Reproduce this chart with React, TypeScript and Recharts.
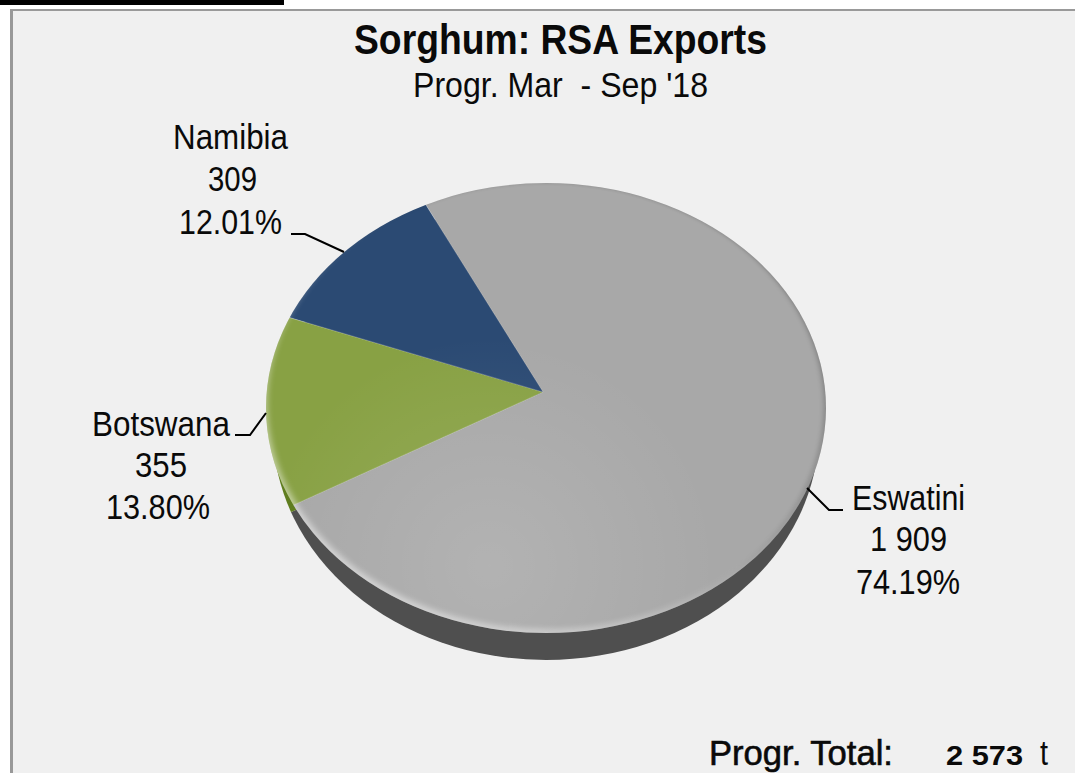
import React from "react";
import { PieChart, Pie, Cell } from "recharts";

// Slice order runs clockwise from the top, same as the source chart
const COUNTRIES = ["Eswatini", "Botswana", "Namibia"];
const TONNES = [1909, 355, 309];
const TONNE_LABELS = ["1 909", "355", "309"];
const SHARE_LABELS = ["74.19%", "13.80%", "12.01%"];
const TOP_COLORS = ["#a8a8a8", "#88a144", "#2b4a73"];
const SIDE_COLORS = ["#4f4f4f", "#5f7d1f", "#1e3350"];

const TITLE = "Sorghum: RSA Exports";
const SUBTITLE = "Progr. Mar  - Sep '18";
const TOTAL_CAPTION = "Progr. Total:";
const TOTAL_VALUE = "2 573";
const TOTAL_UNIT = "t";

const pieData = COUNTRIES.map((name, i) => ({ name, value: TONNES[i] }));

// The tilted disc: slices fan out from an apex that sits above the rim's centre
const APEX = { x: 543, y: 392 };
const RIM = { cx: 546, cy: 408, rx: 280, ry: 225 };
const SIDE_RIM = { cx: 546, cy: 430, rx: 273, ry: 230 };
const SIDE_DROP = 6;
const TILT = 0.8;
const PIE_BOX = 1300;
const FONT = "'Liberation Sans', Arial, sans-serif";

// Label layout: [left, right] edges and baselines for the three lines of each label
const LABEL_BOXES = [
  { lines: [[852, 965, 510], [870, 947, 551], [856, 960, 594]], leader: "807,488 829,510 843,510" },
  { lines: [[92, 230, 436], [135, 187, 477], [106, 210, 519]], leader: "235,435 250,435 266,413" },
  { lines: [[173, 288, 149], [208, 257, 191], [179, 282, 234]], leader: "291,234 305,234 344,252" },
];

function FitText({ left, right, y, size, weight = 400, heavy = 0, children }: any) {
  return (
    <text
      x={left}
      y={y}
      fontFamily={FONT}
      fontSize={size}
      fontWeight={weight}
      fill="#0a0a0a"
      stroke={heavy ? "#0a0a0a" : "none"}
      strokeWidth={heavy}
      textLength={right - left}
      lengthAdjust="spacingAndGlyphs"
      style={{ whiteSpace: "pre" }}
    >
      {children}
    </text>
  );
}

function Disc({ colors, rim, drop, edge }: { colors: string[]; rim: typeof RIM; drop: number; edge: string }) {
  return (
    <div style={{ position: "absolute", left: 0, top: 0, width: 1075, height: 773, filter: "blur(0.6px)" }}>
      <div
        style={{
          position: "absolute",
          inset: 0,
          overflow: "hidden",
          clipPath: `ellipse(${rim.rx}px ${rim.ry}px at ${rim.cx}px ${rim.cy}px)`,
        }}
      >
        <div
          style={{
            position: "absolute",
            left: APEX.x - PIE_BOX / 2,
            top: APEX.y + drop - PIE_BOX / 2,
            width: PIE_BOX,
            height: PIE_BOX,
            transform: `scaleY(${TILT})`,
          }}
        >
          <PieChart width={PIE_BOX} height={PIE_BOX} margin={{ top: 0, right: 0, bottom: 0, left: 0 }}>
            <Pie
              data={pieData}
              dataKey="value"
              nameKey="name"
              cx={PIE_BOX / 2}
              cy={PIE_BOX / 2}
              innerRadius={0}
              outerRadius={PIE_BOX / 2 - 10}
              startAngle={116.6}
              endAngle={-243.4}
              stroke={edge}
              strokeWidth={1}
              isAnimationActive={false}
            >
              {pieData.map((d, i) => (
                <Cell key={d.name} fill={colors[i]} />
              ))}
            </Pie>
          </PieChart>
        </div>
      </div>
    </div>
  );
}

export default function App() {
  return (
    <div style={{ position: "absolute", left: 0, top: 0, width: 1075, height: 773, overflow: "hidden", background: "#fff" }}>
      <div style={{ position: "absolute", left: 0, top: 0, width: 284, height: 5, background: "#000" }} />
      <div
        style={{
          position: "absolute",
          left: 10,
          top: 9,
          right: 0,
          bottom: 0,
          background: "#f0f0f0",
          borderLeft: "3px solid #999",
          borderTop: "2px solid #999",
        }}
      />

      <Disc colors={SIDE_COLORS} rim={SIDE_RIM} drop={SIDE_DROP} edge="none" />
      <Disc colors={TOP_COLORS} rim={RIM} drop={0} edge="rgba(255,255,255,0.22)" />

      {/* Rim shading on the top face */}
      <div
        style={{
          position: "absolute",
          left: RIM.cx - RIM.rx,
          top: RIM.cy - RIM.ry,
          width: RIM.rx * 2,
          height: RIM.ry * 2,
          borderRadius: "50%",
          background: "radial-gradient(circle at 40% 85%, rgba(255,255,255,0.12), rgba(255,255,255,0) 45%)",
          boxShadow:
            "inset 3px -5px 6px -2px rgba(255,255,255,0.5), inset -4px -1px 5px -2px rgba(0,0,0,0.22), inset 0 2px 3px -1px rgba(0,0,0,0.06)",
        }}
      />

      <svg width={1075} height={773} style={{ position: "absolute", left: 0, top: 0 }}>
        <FitText left={354} right={767} y={54} size={42} weight={700}>{TITLE}</FitText>
        <FitText left={413} right={708} y={97} size={35}>{SUBTITLE}</FitText>

        {LABEL_BOXES.map((box, i) => (
          <g key={COUNTRIES[i]}>
            {[COUNTRIES[i], TONNE_LABELS[i], SHARE_LABELS[i]].map((line, j) => (
              <FitText key={j} left={box.lines[j][0]} right={box.lines[j][1]} y={box.lines[j][2]} size={35}>
                {line}
              </FitText>
            ))}
            <polyline points={box.leader} fill="none" stroke="#000" strokeWidth={2} />
          </g>
        ))}

        <FitText left={709} right={893} y={765} size={35} heavy={0.6}>{TOTAL_CAPTION}</FitText>
        <FitText left={946} right={1023} y={765} size={28} weight={700}>{TOTAL_VALUE}</FitText>
        <FitText left={1040} right={1048} y={765} size={35}>{TOTAL_UNIT}</FitText>
      </svg>
    </div>
  );
}
